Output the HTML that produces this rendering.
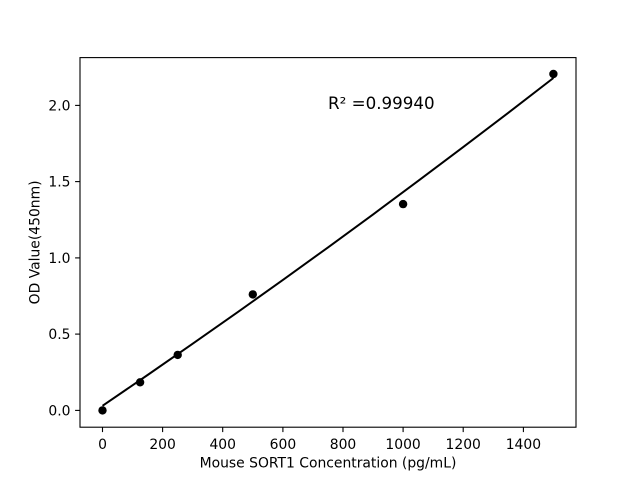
<!DOCTYPE html>
<html>
<head>
<meta charset="utf-8">
<style>
html,body{margin:0;padding:0;background:#fff;}
svg{display:block;}
text{font-family:"DejaVu Sans","Liberation Sans",sans-serif;fill:#000;}
</style>
</head>
<body>
<svg width="640" height="480" viewBox="0 0 640 480" xmlns="http://www.w3.org/2000/svg">
<rect width="640" height="480" fill="#fff"/>
<!-- fit curve -->
<polyline fill="none" stroke="#000" stroke-width="2" stroke-linejoin="round"
 points="102.5,405.8 147.6,375.0 192.7,343.7 237.8,312.1 282.9,279.9 328.0,247.4 373.1,214.4 418.1,180.9 463.2,147.1 508.3,112.8 553.4,78.0"/>
<!-- points -->
<g fill="#000">
<circle cx="102.5" cy="410.4" r="4.2"/>
<circle cx="140.1" cy="382.3" r="4.2"/>
<circle cx="177.7" cy="354.9" r="4.2"/>
<circle cx="252.8" cy="294.4" r="4.2"/>
<circle cx="403.1" cy="204.1" r="4.2"/>
<circle cx="553.4" cy="74.0" r="4.2"/>
</g>
<!-- axes frame -->
<rect x="80" y="57.6" width="496" height="369.6" fill="none" stroke="#000" stroke-width="1.1"/>
<!-- x ticks -->
<g stroke="#000" stroke-width="1.1">
<line x1="102.5" y1="427.2" x2="102.5" y2="432.1"/>
<line x1="162.6" y1="427.2" x2="162.6" y2="432.1"/>
<line x1="222.7" y1="427.2" x2="222.7" y2="432.1"/>
<line x1="282.9" y1="427.2" x2="282.9" y2="432.1"/>
<line x1="343.0" y1="427.2" x2="343.0" y2="432.1"/>
<line x1="403.1" y1="427.2" x2="403.1" y2="432.1"/>
<line x1="463.2" y1="427.2" x2="463.2" y2="432.1"/>
<line x1="523.4" y1="427.2" x2="523.4" y2="432.1"/>
</g>
<g font-size="13.9" text-anchor="middle">
<text x="102.5" y="449">0</text>
<text x="162.6" y="449">200</text>
<text x="222.7" y="449">400</text>
<text x="282.9" y="449">600</text>
<text x="343.0" y="449">800</text>
<text x="403.1" y="449">1000</text>
<text x="463.2" y="449">1200</text>
<text x="523.4" y="449">1400</text>
</g>
<!-- y ticks -->
<g stroke="#000" stroke-width="1.1">
<line x1="75.1" y1="410.4" x2="80" y2="410.4"/>
<line x1="75.1" y1="334.1" x2="80" y2="334.1"/>
<line x1="75.1" y1="257.9" x2="80" y2="257.9"/>
<line x1="75.1" y1="181.6" x2="80" y2="181.6"/>
<line x1="75.1" y1="105.4" x2="80" y2="105.4"/>
</g>
<g font-size="13.9" text-anchor="end">
<text x="70.5" y="415.4">0.0</text>
<text x="70.5" y="339.1">0.5</text>
<text x="70.5" y="262.9">1.0</text>
<text x="70.5" y="186.6">1.5</text>
<text x="70.5" y="110.4">2.0</text>
</g>
<!-- axis labels -->
<text x="328" y="467.5" font-size="13.9" text-anchor="middle">Mouse SORT1 Concentration (pg/mL)</text>
<text transform="translate(39.5,242.4) rotate(-90)" font-size="13.9" text-anchor="middle">OD Value(450nm)</text>
<!-- R2 annotation -->
<text x="328" y="109" font-size="16.7">R² =0.99940</text>
</svg>
</body>
</html>
